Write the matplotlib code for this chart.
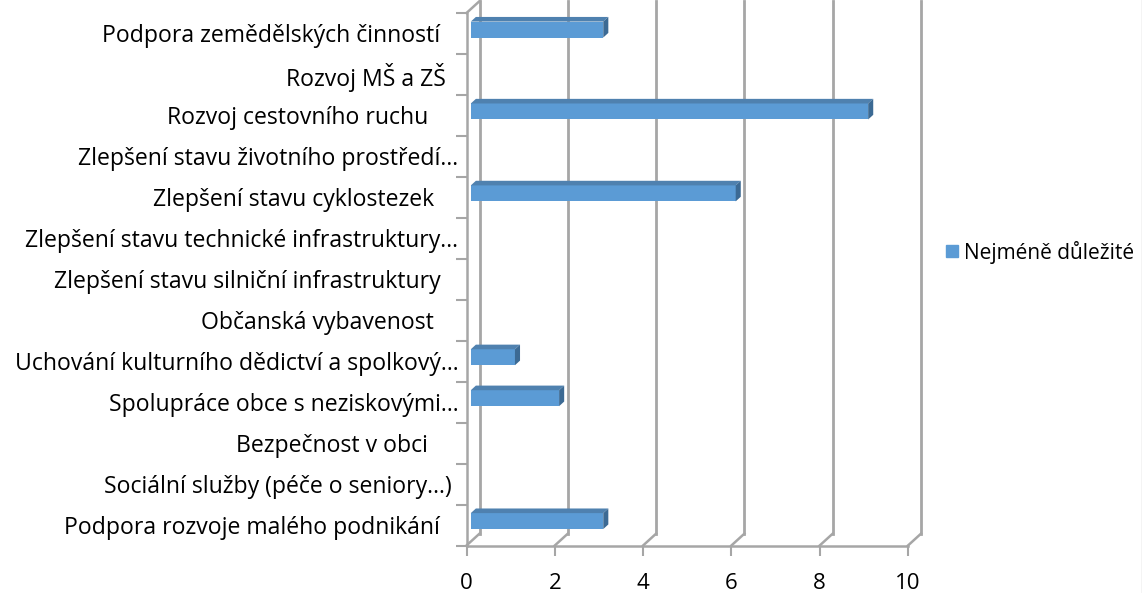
from matplotlib import pyplot as plt
from matplotlib.patches import Patch
from matplotlib.lines import Line2D
import numpy as np

# categories top -> bottom, labels keep the trailing spaces of the source sheet
CATEGORIES = [
    "Podpora zemědělských činností   ",
    "Rozvoj MŠ a ZŠ  ",
    "Rozvoj cestovního ruchu     ",
    "Zlepšení stavu životního prostředí…",
    "Zlepšení stavu cyklostezek    ",
    "Zlepšení stavu technické infrastruktury…",
    "Zlepšení stavu silniční infrastruktury   ",
    "Občanská vybavenost    ",
    "Uchování kulturního dědictví a spolkový…",
    "Spolupráce obce s neziskovými…",
    "Bezpečnost v obci     ",
    "Sociální služby (péče o seniory…) ",
    "Podpora rozvoje malého podnikání   ",
]
VALUES = [3, 0, 9, 0, 6, 0, 0, 0, 1, 2, 0, 0, 3]
SERIES_NAME = "Nejméně důležité"
X_TICKS = [0, 2, 4, 6, 8, 10]

# styling
FRONT = "#5B9BD5"
TOP = "#4F81AF"
SIDE = "#3C6A94"
GRID = "#A6A6A6"
FS = 16.6
DX, DY = 0.295, 0.29      # depth of the 3d box in data units
F1, F2 = 0.33, 0.72       # bar depth span as a fraction of the box depth
BAR_H = 0.39

plt.rcParams["font.family"] = ["Open Sans", "DejaVu Sans"]

n = len(CATEGORIES)
ypos = np.arange(n)[::-1]

fig = plt.figure(figsize=(11.42, 5.93), dpi=100)
ax = fig.add_axes([466.5 / 1142, 47.5 / 593, 441.5 / 1142, 532.5 / 593])
ax.set_xlim(X_TICKS[0], X_TICKS[-1])
ax.set_ylim(-0.5, n - 0.5)

# back wall, floor and side wall lines
for k in X_TICKS:
    ax.plot([k, k + DX], [-0.5, -0.5 + DY], color=GRID, lw=1.8, clip_on=False, zorder=1)
    ax.plot([k + DX, k + DX], [-0.5 + DY, n - 0.5 + DY], color=GRID, lw=2.0, clip_on=False, zorder=1)
ax.plot([0, DX], [n - 0.5, n - 0.5 + DY], color=GRID, lw=1.8, clip_on=False, zorder=1)

# bars: front face
ax.barh(ypos + F1 * DY, VALUES, left=F1 * DX, height=BAR_H, color=FRONT, lw=0, zorder=3)

# bars: top and end faces
ddx, ddy = (F2 - F1) * DX, (F2 - F1) * DY
for y, v in zip(ypos, VALUES):
    if v <= 0:
        continue
    y0 = y + F1 * DY - BAR_H / 2
    y1 = y0 + BAR_H
    x0 = F1 * DX
    x1 = v + F1 * DX
    ax.fill([x0, x1, x1 + ddx, x0 + ddx], [y1, y1, y1 + ddy, y1 + ddy], color=TOP, lw=0, zorder=3, clip_on=False)
    ax.fill([x1, x1 + ddx, x1 + ddx, x1], [y0, y0 + ddy, y1 + ddy, y1], color=SIDE, lw=0, zorder=3, clip_on=False)

for s in ["top", "right"]:
    ax.spines[s].set_visible(False)
for s in ["left", "bottom"]:
    ax.spines[s].set_color(GRID)
    ax.spines[s].set_linewidth(1.8)

ax.set_xticks(X_TICKS)
ax.tick_params(axis="x", direction="out", length=7, width=1.5, color=GRID, pad=13, labelsize=16)
ax.set_yticks(ypos, CATEGORIES)
ax.set_yticks(np.arange(-0.5, n), minor=True)
ax.tick_params(axis="y", which="major", length=0, pad=6, labelsize=FS)
ax.tick_params(axis="y", which="minor", direction="out", length=8, width=1.5, color=GRID)
ax.set_facecolor("none")

fig.legend(handles=[Patch(color=FRONT, label=SERIES_NAME)], loc="center left",
           bbox_to_anchor=(936 / 1142, 1 - 252 / 593), frameon=False, fontsize=15,
           handlelength=0.55, handleheight=0.55, handletextpad=0.3, borderpad=0)

fig.add_artist(Line2D([1141.5 / 1142] * 2, [0, 1], transform=fig.transFigure, color="#C8C8C8", lw=1))

fig.savefig("out.png", dpi=100)
